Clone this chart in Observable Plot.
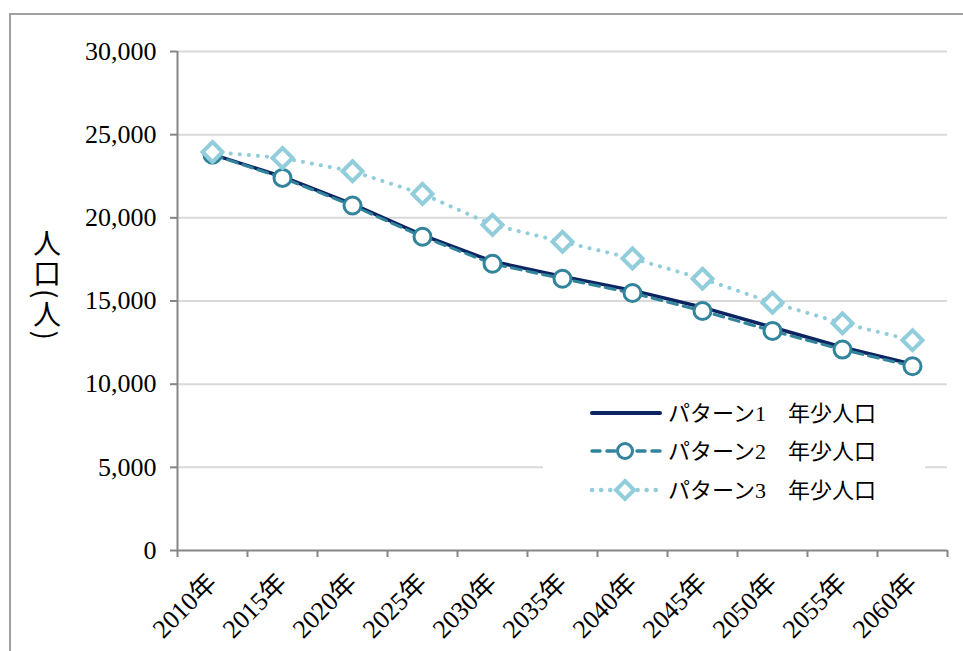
<!DOCTYPE html>
<html><head><meta charset="utf-8">
<script src="https://cdn.jsdelivr.net/npm/d3@7"></script>
<script src="https://cdn.jsdelivr.net/npm/@observablehq/plot@0.6"></script>
<style>
html,body{margin:0;padding:0;background:#fff;overflow:hidden}
#wrap{position:relative;width:963px;height:651px;overflow:hidden}
#frame{position:absolute;left:9px;top:13px;width:1000px;height:700px;border:2px solid #a0a0a0;box-sizing:border-box}
#chart{position:absolute;left:0;top:0}
#ylabel{position:absolute;left:33px;top:229px;writing-mode:vertical-rl;text-orientation:mixed;font-family:"Noto Sans CJK JP";font-size:28px;line-height:28px;color:#000;letter-spacing:2px}
#legend{position:absolute;left:543px;top:395px;width:382px;height:115px;background:#fff}
#legend svg{display:block}
</style>
</head><body>
<div id="wrap">
  <div id="frame"></div>
  <div id="chart"></div>
  <div id="ylabel">人口(人)</div>
  <div id="legend"></div>
</div>
<script>
// ---- data ----
const years = [2010, 2015, 2020, 2025, 2030, 2035, 2040, 2045, 2050, 2055, 2060];
const pattern1 = [23820, 22470, 20820, 18960, 17380, 16480, 15640, 14620, 13420, 12220, 11200];
const pattern2 = [23800, 22400, 20740, 18860, 17240, 16340, 15480, 14400, 13200, 12080, 11080];
const pattern3 = [23960, 23600, 22800, 21440, 19580, 18560, 17560, 16340, 14900, 13660, 12640];
const seriesNames = ["パターン1　年少人口", "パターン2　年少人口", "パターン3　年少人口"];
const yTicks = [0, 5000, 10000, 15000, 20000, 25000, 30000];

const colors = ["#0c2461", "#31849b", "#92cddc"];

const rows = (vals) => years.map((yr, i) => ({year: yr, value: vals[i]}));
const d1 = rows(pattern1), d2 = rows(pattern2), d3r = rows(pattern3);
const half = (years[1] - years[0]) / 2;
const boundaries = years.map(y => y - half).concat([years[years.length - 1] + half]);
const fmt = d3.format(",");

const chart = Plot.plot({
  width: 963, height: 651,
  marginLeft: 177, marginRight: 16, marginTop: 51, marginBottom: 101,
  style: {fontFamily: "'Liberation Serif','Noto Sans CJK JP',serif", fontSize: "26px", color: "#000", background: "transparent", overflow: "visible"},
  x: {type: "linear", domain: [boundaries[0], boundaries[boundaries.length - 1]]},
  y: {domain: [0, 30000]},
  marks: [
    Plot.gridY(yTicks.slice(1), {stroke: "#d9d9d9", strokeOpacity: 1, strokeWidth: 2}),
    Plot.axisY(yTicks, {tickSize: 7, tickPadding: 14, tickFormat: fmt, stroke: "#868686", strokeWidth: 2, fill: "#000", label: null, style: {letterSpacing: "0.5px"}}),
    Plot.ruleX([boundaries[0]], {stroke: "#868686", strokeWidth: 2}),
    Plot.ruleY([0], {stroke: "#868686", strokeWidth: 2}),
    Plot.axisX(boundaries, {tickSize: 7, tickFormat: () => "", stroke: "#868686", strokeWidth: 2, label: null}),
    Plot.axisX(years, {tickSize: 0, tickPadding: 28, tickRotate: -45, tickFormat: d => d + "年", fill: "#000", label: null}),
    Plot.line(d1, {x: "year", y: "value", stroke: colors[0], strokeWidth: 3.5}),
    Plot.line(d2, {x: "year", y: "value", stroke: colors[1], strokeWidth: 3, strokeDasharray: "10,6"}),
    Plot.dot(d2, {x: "year", y: "value", r: 8.5, fill: "#fff", stroke: colors[1], strokeWidth: 3}),
    Plot.line(d3r, {x: "year", y: "value", stroke: colors[2], strokeWidth: 4, strokeDasharray: "0.1,9", strokeLinecap: "round"}),
    Plot.dot(d3r, {x: "year", y: "value", symbol: "diamond2", r: 9, fill: "#fff", stroke: colors[2], strokeWidth: 4})
  ]
});
document.getElementById("chart").appendChild(chart);

// ---- legend ----
const lg = d3.select("#legend").append("svg").attr("width", 382).attr("height", 115);
const rowsY = [18, 56, 95];
seriesNames.forEach((name, i) => {
  const g = lg.append("g").attr("transform", `translate(0,${rowsY[i]})`);
  const line = g.append("line").attr("x1", 49).attr("x2", 117).attr("y1", 0).attr("y2", 0)
    .attr("stroke", colors[i]).attr("stroke-linecap", "round");
  if (i === 0) line.attr("stroke-width", 4);
  if (i === 1) {
    line.attr("stroke-width", 3.5).attr("stroke-dasharray", "8,7");
    g.append("circle").attr("cx", 82).attr("cy", 0).attr("r", 7.5).attr("fill", "#fff").attr("stroke", colors[1]).attr("stroke-width", 3);
  }
  if (i === 2) {
    line.attr("stroke-width", 4.5).attr("stroke-dasharray", "0.1,9");
    g.append("path").attr("d", "M82,-9L91,0L82,9L73,0Z").attr("fill", "#fff").attr("stroke", colors[2]).attr("stroke-width", 4);
  }
  g.append("text").attr("x", 125).attr("y", 8).text(name)
    .attr("font-family", "'Liberation Serif','Noto Sans CJK JP',serif").attr("font-size", "22px").attr("fill", "#000");
});
</script>
</body></html>
